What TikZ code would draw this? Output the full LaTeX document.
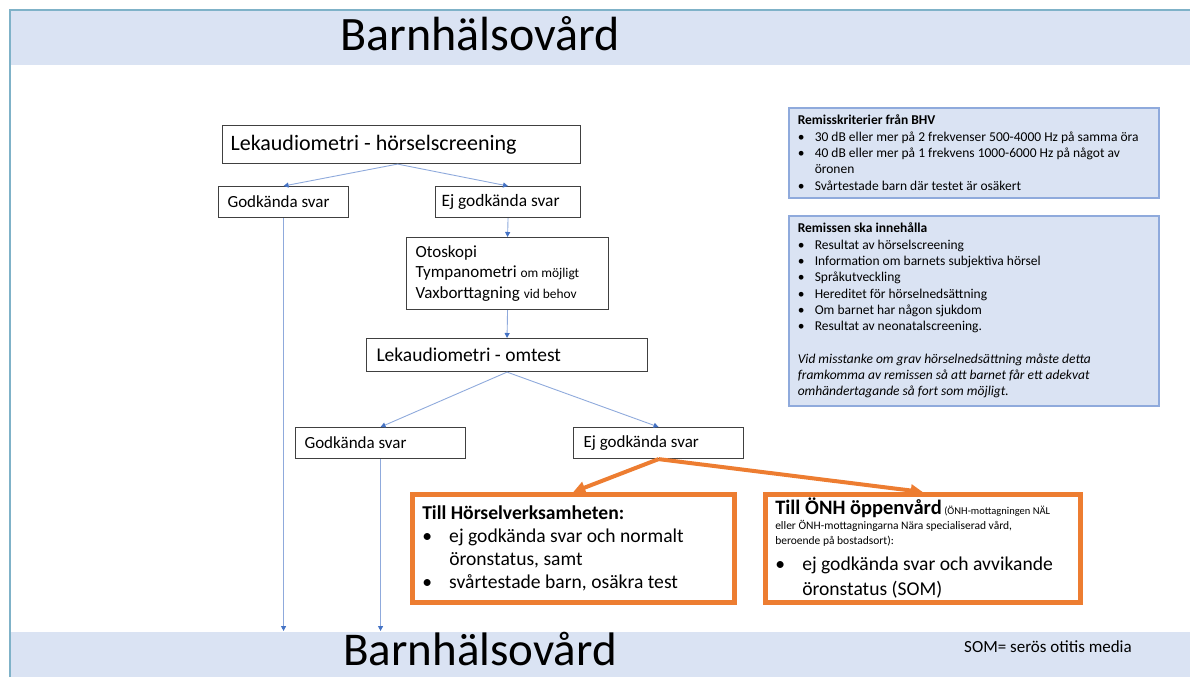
\documentclass[tikz,border=0pt]{standalone}
\usepackage{fontspec}
\setmainfont{Carlito}
\usetikzlibrary{arrows.meta}

\definecolor{bandblue}{HTML}{DAE3F3}
\definecolor{framecol}{HTML}{7FB2C8}
\definecolor{flowblue}{HTML}{8FAADC}
\definecolor{tipblue}{HTML}{4472C4}
\definecolor{referorange}{HTML}{ED7D31}
\definecolor{infoline}{HTML}{8FAADC}

\newcommand{\fsz}[2]{\fontsize{#1}{#2}\selectfont}
\newcommand{\infobul}{\makebox[17pt][l]{\textbullet}}
\newcommand{\referbul}{\makebox[27pt][l]{\textbullet}}

\begin{document}
\begin{tikzpicture}[x=1pt, y=-1pt,
	flowbox/.style={draw=black!75, line width=1.1pt, anchor=north west, align=flush left, inner xsep=8pt, inner ysep=0pt},
	infobox/.style={draw=infoline, fill=bandblue, line width=1.5pt, anchor=north west, align=flush left, inner xsep=9pt, inner ysep=0pt, font=\fsz{13.5}{16.3}},
	referbox/.style={draw=referorange, line width=4.5pt, anchor=north west, align=flush left, inner xsep=10pt, inner ysep=0pt},
	flow/.style={-{Triangle[length=5pt, width=5pt, color=tipblue]}, draw=flowblue, line width=0.9pt},
	refer/.style={-{Triangle[length=12pt, width=12pt]}, draw=referorange, line width=4pt},
	]

	\useasboundingbox (0,0) rectangle (1190,677);

	% bands and frame
	\fill[bandblue] (11,11) rectangle (1190,65);
	\fill[bandblue] (11,632) rectangle (1190,677);
	\draw[framecol, line width=1.6pt] (10,677) -- (10,10) -- (1190,10);
	\node[inner sep=0pt] (topband) at (480,34) {\fsz{48}{50}Barnhälsovård};
	\node[inner sep=0pt] (bottomband) at (480,649) {\fsz{47}{50}Barnhälsovård};
	\node (somnote) at (1048,647) {\fsz{17}{20}SOM= serös otitis media};

	% flow chart
	\node[flowbox, text width=342pt, minimum height=38pt, font=\fsz{22}{26}] (screen) at (222,125) {Lekaudiometri - hörselscreening};
	\node[flowbox, inner xsep=9pt, text width=112pt, minimum height=31pt, font=\fsz{17}{20}] (pass1) at (218,186) {Godkända svar};
	\node[flowbox, inner xsep=6pt, text width=133pt, minimum height=31pt, font=\fsz{17.4}{20}] (fail1) at (435,186) {Ej godkända svar};
	\node[flowbox, inner xsep=9pt, text width=184pt, minimum height=72pt, font=\fsz{17}{20.5}] (otoskopi) at (406,237)
		{Otoskopi\\Tympanometri {\fsz{13.4}{15}om möjligt}\\Vaxborttagning {\fsz{13.4}{15}vid behov}};
	\node[flowbox, inner xsep=10pt, text width=261pt, minimum height=33pt, font=\fsz{19.5}{23}] (retest) at (366,338) {Lekaudiometri - omtest};
	\node[flowbox, inner xsep=9pt, text width=152pt, minimum height=31pt, font=\fsz{17}{20}] (pass2) at (295,427) {Godkända svar};
	\node[flowbox, inner xsep=10pt, text width=150pt, minimum height=31pt, font=\fsz{17}{20}] (fail2) at (573,427) {Ej godkända svar};

	\draw[flow] (screen.south) ++(-4,0) coordinate (split1) -- (pass1.north);
	\draw[flow] (split1) -- (fail1.north);
	\draw[flow] (fail1.south) -- (otoskopi.north);
	\draw[flow] (otoskopi.south) -- (retest.north);
	\draw[flow] (retest.south) -- (pass2.north);
	\draw[flow] (retest.south) -- (fail2.north);

	\coordinate (back1) at (pass1.south |- 0,631);
	\coordinate (back2) at (pass2.south |- 0,631);
	\draw[flow] (pass1.south) -- (back1);
	\draw[flow] (pass2.south) -- (back2);

	% referrals
	\node[referbox, text width=302pt, minimum height=108pt, font=\fsz{19.6}{23}] (horsel) at (410,492)
		{\textbf{Till Hörselverksamheten:}\\
		 \referbul ej godkända svar och normalt\\
		 \hspace*{27pt}öronstatus, samt\\
		 \referbul svårtestade barn, osäkra test};
	\node[referbox, text width=295pt, minimum height=108pt, font=\fsz{11.5}{15}] (onh) at (763,492)
		{{\fsz{20.5}{15}\textbf{Till ÖNH öppenvård}} {\fsz{10.5}{15}(ÖNH-mottagningen NÄL}\\
		 eller ÖNH-mottagningarna Nära specialiserad vård,\\
		 beroende på bostadsort):\\[9pt]
		 {\fsz{19.6}{15}\referbul ej godkända svar och avvikande}\\[7pt]
		 {\fsz{19.6}{15}\hspace*{27pt}öronstatus (SOM)}};

	\draw[refer] (fail2.south) -- (horsel.north);
	\draw[refer] (fail2.south) -- (onh.north);

	% criteria boxes
	\node[infobox, text width=352pt, minimum height=90pt] (criteria) at (788,107)
		{\textbf{Remisskriterier från BHV}\\
		 \infobul 30 dB eller mer på 2 frekvenser 500-4000 Hz på samma öra\\
		 \infobul 40 dB eller mer på 1 frekvens 1000-6000 Hz på något av\\
		 \hspace*{17pt}öronen\\
		 \infobul Svårtestade barn där testet är osäkert};
	\node[infobox, text width=352pt, minimum height=190pt] (contents) at (788,215)
		{\textbf{Remissen ska innehålla}\\
		 \infobul Resultat av hörselscreening\\
		 \infobul Information om barnets subjektiva hörsel\\
		 \infobul Språkutveckling\\
		 \infobul Hereditet för hörselnedsättning\\
		 \infobul Om barnet har någon sjukdom\\
		 \infobul Resultat av neonatalscreening.\\[16.3pt]
		 \textit{Vid misstanke om grav hörselnedsättning måste detta}\\
		 \textit{framkomma av remissen så att barnet får ett adekvat}\\
		 \textit{omhändertagande så fort som möjligt.}};

\end{tikzpicture}
\end{document}
